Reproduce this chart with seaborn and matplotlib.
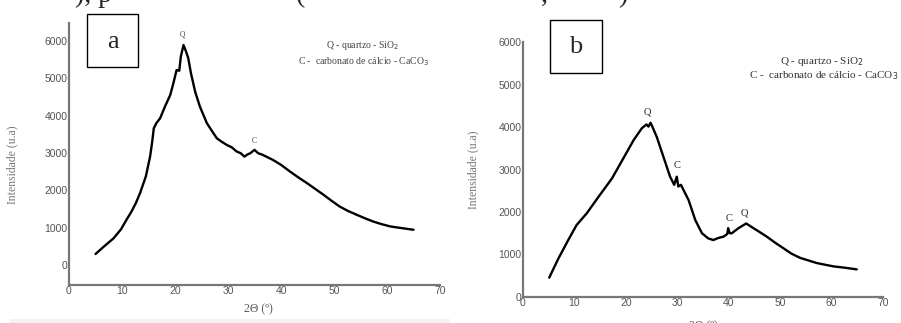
import matplotlib
matplotlib.use('Agg')
import matplotlib.pyplot as plt
import seaborn as sns
import pandas as pd
from matplotlib.patches import Rectangle

# difratograma (a)
x_a = [5.0, 6.5, 8.4, 9.8, 10.9, 11.8, 12.6, 13.4, 14.5, 15.3, 15.7, 16.0, 16.5, 17.2,
       18.1, 19.1, 19.7, 20.3, 20.8, 21.1, 21.6, 22.1, 22.5, 23.0, 23.8, 24.7, 26.0, 27.0,
       27.9, 28.8, 29.8, 30.7, 31.6, 32.4, 33.1, 33.7, 34.2, 35.0, 35.7, 36.5, 37.5, 38.5,
       40.0, 41.7, 43.3, 44.9, 46.5, 48.0, 49.5, 51.1, 52.7, 54.3, 55.8, 57.4, 59.0, 60.6,
       62.5, 64.0, 65.0]
y_a = [290, 480, 710, 950, 1220, 1430, 1650, 1920, 2370, 2900, 3300, 3660, 3800, 3930,
       4240, 4550, 4870, 5220, 5200, 5580, 5890, 5710, 5540, 5140, 4640, 4240, 3800, 3580,
       3390, 3300, 3210, 3150, 3040, 2990, 2900, 2960, 2990, 3080, 2990, 2950, 2880, 2810,
       2680, 2500, 2340, 2190, 2030, 1880, 1720, 1560, 1440, 1340, 1250, 1160, 1090, 1030,
       990, 960, 940]

# difratograma (b)
x_b = [5.1, 6.9, 8.8, 10.4, 12.4, 14.7, 17.3, 19.5, 21.5, 23.1, 24.0, 24.4, 24.8, 25.0,
       26.0, 27.3, 28.6, 29.4, 29.9, 30.2, 30.7, 31.2, 32.2, 33.5, 34.8, 36.0, 37.0, 38.0,
       39.0, 39.7, 39.9, 40.2, 40.6, 41.9, 43.4, 44.8, 46.0, 47.4, 49.0, 50.6, 52.2, 53.9,
       55.5, 57.1, 58.7, 60.4, 62.5, 64.9]
y_b = [455, 910, 1340, 1690, 1970, 2360, 2790, 3260, 3690, 3970, 4060, 4010, 4100, 4050,
       3770, 3300, 2830, 2640, 2830, 2600, 2640, 2520, 2280, 1810, 1500, 1380, 1340, 1390,
       1420, 1480, 1620, 1500, 1500, 1620, 1730, 1620, 1530, 1420, 1280, 1150, 1020, 920,
       860, 800, 760, 720, 690, 650]

# rotulos dos picos (x, y, letra)
peaks_a = [(21.5, 6160, 'Q'), (34.9, 3320, 'C')]
peaks_b = [(24.25, 4360, 'Q'), (30.0, 3090, 'C'), (40.1, 1850, 'C'), (43.05, 1970, 'Q')]

xticks = [0, 10, 20, 30, 40, 50, 60, 70]
yticks = [0, 1000, 2000, 3000, 4000, 5000, 6000]

sns.set_style('white')
plt.rcParams['font.family'] = ['Liberation Sans', 'DejaVu Sans']

fig = plt.figure(figsize=(9.01, 3.23), dpi=100)
ax_a = fig.add_axes([69/901, 38/323, 371/901, 262/323])
ax_b = fig.add_axes([523/901, 26/323, 360/901, 255/323])

df_a = pd.DataFrame({'x': x_a, 'y': y_a})
df_b = pd.DataFrame({'x': x_b, 'y': y_b})
sns.lineplot(data=df_a, x='x', y='y', ax=ax_a, color='black', linewidth=1.7, sort=False)
sns.lineplot(data=df_b, x='x', y='y', ax=ax_b, color='black', linewidth=1.7, sort=False)

ax_a.set_xlim(0, 70)
ax_a.set_ylim(-540, 6480)
ax_b.set_xlim(0, 70)
ax_b.set_ylim(0, 6000)

serif = ['Liberation Serif', 'DejaVu Serif']
for ax in (ax_a, ax_b):
    ax.set_xticks(xticks)
    ax.set_yticks(yticks)
    ax.tick_params(length=0, pad=1, labelsize=7.5, labelcolor='#555555')
    for s in ('top', 'right'):
        ax.spines[s].set_visible(False)
    for s in ('left', 'bottom'):
        ax.spines[s].set_color('#777777')
        ax.spines[s].set_linewidth(1.6)
    ax.set_facecolor('none')
    ax.set_xlabel('2Θ (º)', family=serif, fontsize=8.5, color='#555555')
    ax.set_ylabel('Intensidade (u.a)', family=serif, fontsize=8.5, color='#777777')

ax_a.xaxis.set_label_coords(0.51, -0.07)
ax_a.yaxis.set_label_coords(-0.137, 0.46)
ax_b.xaxis.set_label_coords(0.5, -0.09)
ax_b.yaxis.set_label_coords(-0.122, 0.5)

for x, y, t in peaks_a:
    ax_a.text(x, y, t, family=serif, fontsize=5.5, color='#444444', ha='center', va='center')
for x, y, t in peaks_b:
    ax_b.text(x, y, t, family=serif, fontsize=7.5, color='#222222', ha='center', va='center')

ax_a.text(55.5, 5870, 'Q - quartzo - SiO$_2$', family=serif, fontsize=7,
          color='#444444', ha='center', va='center')
ax_a.text(55.5, 5440, 'C -  carbonato de cálcio - CaCO$_3$', family=serif, fontsize=7,
          color='#444444', ha='center', va='center')
ax_b.text(58.0, 5530, 'Q - quartzo - SiO$_2$', family=serif, fontsize=8,
          color='#333333', ha='center', va='center')
ax_b.text(58.5, 5200, 'C -  carbonato de cálcio - CaCO$_3$', family=serif, fontsize=8,
          color='#333333', ha='center', va='center', clip_on=False)

# caixas com as letras
fig.add_artist(Rectangle((87/901, 256/323), 51/901, 53/323, transform=fig.transFigure,
                         fill=False, edgecolor='black', linewidth=1.0))
fig.add_artist(Rectangle((550/901, 250/323), 52/901, 53/323, transform=fig.transFigure,
                         fill=False, edgecolor='black', linewidth=1.0))
fig.text(112.5/901, 281/323, 'a', family=serif, fontsize=19, ha='center', va='center')
fig.text(576/901, 276/323, 'b', family=serif, fontsize=19, ha='center', va='center')

# restos da legenda cortada no topo do recorte
for xp, t in [(75, '), p'), (296, '('), (541, ','), (618, ')')]:
    fig.text(xp/901, 321/323, t, family=serif, fontsize=20, ha='left', va='baseline')

fig.add_artist(Rectangle((10/901, 0), 440/901, 4/323, transform=fig.transFigure,
                         facecolor='#f2f2f2', edgecolor='none'))

fig.savefig('out.png', dpi=100)
